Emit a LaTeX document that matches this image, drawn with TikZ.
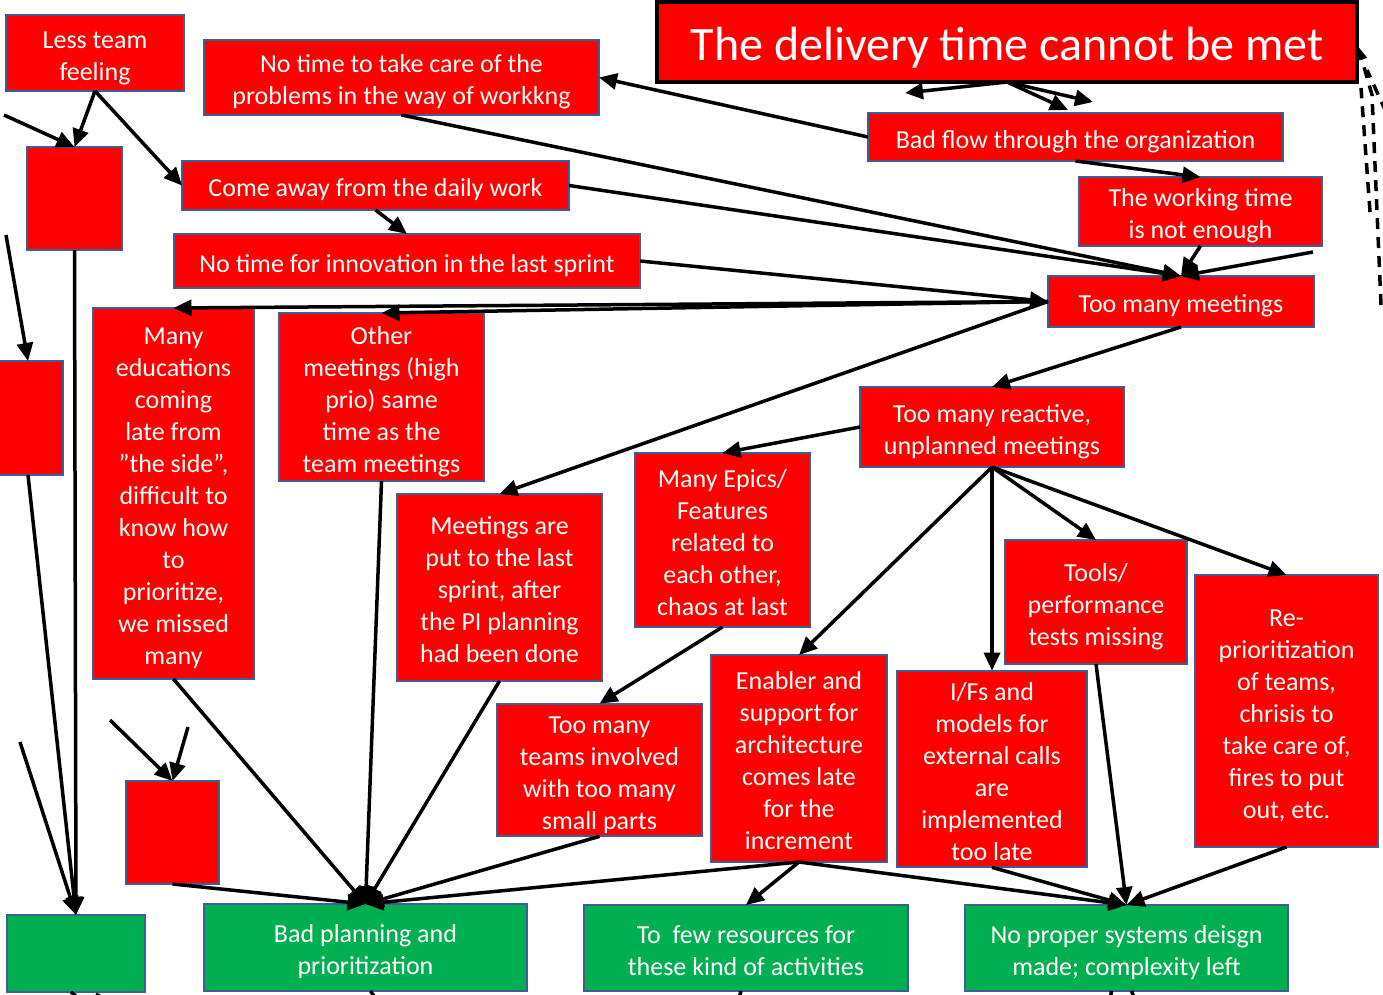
\documentclass[tikz,border=0pt]{standalone}
\usepackage{fontspec}
\setmainfont{Carlito}
\usetikzlibrary{arrows.meta}
\definecolor{boxred}{RGB}{255,0,0}
\definecolor{boxgreen}{RGB}{0,176,80}
\definecolor{boxedge}{RGB}{60,95,150}
\newcommand\ppstrutA{\rule[-0.269em]{0pt}{\dimexpr1.221em+5pt\relax}}
\newcommand\ppstrutB{\rule[-0.269em]{0pt}{1.221em}}
\tikzset{
  rbox/.style={draw=boxedge, line width=2pt, fill=boxred, text=white, align=flush center,
    inner sep=0pt, outer sep=0pt, font=\fontsize{26}{32}\selectfont,
    execute at begin node=\ppstrutA, execute at end node=\ppstrutB},
  gbox/.style={rbox, fill=boxgreen},
  tw/.style={text width=#1},
  conn/.style={line width=3.5pt, -{Triangle[length=18pt,width=16pt]}},
  plainline/.style={line width=3.5pt},
  dashline/.style={line width=3.5pt, dash pattern=on 11pt off 8pt},
}
\begin{document}
\begin{tikzpicture}[x=1pt,y=-1pt]
\useasboundingbox (0,0) rectangle (1383,995);
% nodes
\node[rbox, tw=170, minimum width=178, minimum height=76] (less) at (95,53) {Less team\\feeling};
\node[rbox, tw=385, minimum width=395, minimum height=75] (notake) at (401.5,77.5) {No time to take care of the\\problems in the way of workkng};
\node[rbox, tw=690, draw=black, line width=4.5pt, minimum width=700, minimum height=80, font=\fontsize{48}{56}\selectfont] (deliv) at (1007,42) {The delivery time cannot be met};
\node[rbox, tw=405, minimum width=415, minimum height=48] (badflow) at (1075.5,137) {Bad flow through the organization};
\node[rbox, tw=235, minimum width=243, minimum height=63] (worktime) at (1200.5,211.5) {The working time\\is not enough};
\node[rbox, tw=258, minimum width=266, minimum height=51] (toomany) at (1181,301.5) {Too many meetings};
\node[rbox, tw=380, minimum width=387, minimum height=49] (comeaway) at (375.5,185.5) {Come away from the daily work};
\node[rbox, tw=458, minimum width=466, minimum height=54] (innov) at (407,261) {No time for innovation in the last sprint};
\node[rbox, minimum width=95, minimum height=103] (e1) at (74.5,198.5) {};
\node[rbox, minimum width=70, minimum height=114] (e2) at (28,418) {};
\node[rbox, tw=155, minimum width=161, minimum height=371] (educ) at (173.5,493.5) {Many\\educations\\coming\\late from\\”the side”,\\difficult to\\know how\\to\\prioritize,\\we missed\\many};
\node[rbox, tw=199, minimum width=205, minimum height=168] (other) at (381.5,397) {Other\\meetings (high\\prio) same\\time as the\\team meetings};
\node[rbox, tw=199, minimum width=205, minimum height=187] (put) at (499.5,587.5) {Meetings are\\put to the last\\sprint, after\\the PI planning\\had been done};
\node[rbox, tw=169, minimum width=175, minimum height=174] (epics) at (722.5,540) {Many Epics/\\Features\\related to\\each other,\\chaos at last};
\node[rbox, tw=256, minimum width=264, minimum height=80] (reactive) at (992,427) {Too many reactive,\\unplanned meetings};
\node[rbox, tw=176, minimum width=182, minimum height=124] (tools) at (1096,602) {Tools/\\performance\\tests missing};
\node[rbox, tw=177, minimum width=183, minimum height=272] (reprio) at (1286.5,711) {Re-\\prioritization\\of teams,\\chrisis to\\take care of,\\fires to put\\out, etc.};
\node[rbox, tw=170, minimum width=176, minimum height=207] (enabler) at (799,758.5) {Enabler and\\support for\\architecture\\comes late\\for the\\increment};
\node[rbox, tw=184, minimum width=190, minimum height=192] (ifs) at (992,769) {I/Fs and\\models for\\external calls\\are\\implemented\\too late};
\node[rbox, tw=199, minimum width=205, minimum height=130] (teams) at (599.5,770) {Too many\\teams involved\\with too many\\small parts};
\node[rbox, minimum width=93, minimum height=103] (e3) at (172.5,832.5) {};
\node[gbox, minimum width=138, minimum height=77] (g1) at (76,953.5) {};
\node[gbox, tw=315, minimum width=323, minimum height=87] (badplan) at (365.5,947.5) {Bad planning and\\prioritization};
\node[gbox, tw=316, minimum width=324, minimum height=86] (few) at (746,948) {To\ \ few resources for\\these kind of activities};
\node[gbox, tw=315, minimum width=323, minimum height=86] (noproper) at (1126.5,948) {No proper systems deisgn\\made; complexity left};
% free ends
\coordinate (f1) at (4,115);
\coordinate (f2) at (1313,252);
\coordinate (f3) at (6,235);
\coordinate (f4) at (20,742);
\coordinate (f5) at (110,720);
\coordinate (f6) at (188,727);
\coordinate (a1) at (905,93);
\coordinate (a2) at (1068,110);
\coordinate (a3) at (1093,102);
\coordinate (d1) at (1381,305);
\coordinate (d1m) at (1372,95);
\coordinate (d1e) at (1358,46);
\coordinate (d2) at (1370,212);
\coordinate (d2e) at (1361,88);
\coordinate (d3) at (1386,112);
\coordinate (d3e) at (1367,70);
\coordinate (s1) at (95,1012);
\coordinate (s2) at (125,1012);
\coordinate (s3) at (385,1012);
\coordinate (s4) at (735,1012);
\coordinate (s5) at (1108,1012);
\coordinate (s6) at (1140,1012);
% connectors
\draw[conn] (less.south) -- (e1.north);
\draw[conn] (less.south) -- (comeaway.west);
\draw[conn] (f1) -- (e1.north);
\draw[conn] (comeaway.south) -- (innov.north);
\draw[conn] (badflow.west) -- (notake.east);
\draw[conn] (deliv.south) -- (a1);
\draw[conn] (deliv.south) -- (a2);
\draw[conn] (deliv.south) -- (a3);
\draw[conn] (badflow.south) -- (worktime.north);
\draw[conn] (notake.south) -- (toomany.north);
\draw[conn] (comeaway.east) -- (toomany.north);
\draw[conn] (worktime.south) -- (toomany.north);
\draw[conn] (f2) -- (toomany.north);
\draw[conn] (innov.east) -- (toomany.west);
\draw[conn] (toomany.west) -- (educ.north);
\draw[conn] (toomany.west) -- (other.north);
\draw[conn] (toomany.west) -- (put.north);
\draw[conn] (toomany.south) -- (reactive.north);
\draw[conn] (reactive.west) -- (epics.north);
\draw[conn] (reactive.south) -- (enabler.north);
\draw[conn] (reactive.south) -- (ifs.north);
\draw[conn] (reactive.south) -- (tools.north);
\draw[conn] (reactive.south) -- (reprio.north);
\draw[conn] (epics.south) -- (teams.north);
\draw[conn] (e1.south) -- (g1.north);
\draw[conn] (f3) -- (e2.north);
\draw[conn] (e2.south) -- (g1.north);
\draw[conn] (f4) -- (g1.north);
\draw[conn] (f5) -- (e3.north);
\draw[conn] (f6) -- (e3.north);
\draw[conn] (educ.south) -- (badplan.north);
\draw[conn] (other.south) -- (badplan.north);
\draw[conn] (put.south) -- (badplan.north);
\draw[conn] (teams.south) -- (badplan.north);
\draw[conn] (e3.south) -- (badplan.north);
\draw[conn] (enabler.south) -- (badplan.north);
\draw[conn] (enabler.south) -- (few.north);
\draw[conn] (enabler.south) -- (noproper.north);
\draw[conn] (ifs.south) -- (noproper.north);
\draw[conn] (tools.south) -- (noproper.north);
\draw[conn] (reprio.south) -- (noproper.north);
% dashed lines at right
\draw[dashline, -{Triangle[length=14pt,width=10pt]}] (d1) -- (d1m) -- (d1e);
\draw[dashline] (d2) -- (d2e);
\draw[dashline] (d3) -- (d3e);
% stubs leaving the page at the bottom
\draw[plainline] (g1.south) ++(-5,0) -- (s1);
\draw[plainline] (g1.south) ++(20,2) -- (s2);
\draw[plainline] (badplan.south) ++(5,0) -- (s3);
\draw[plainline] (few.south) ++(-5,0) -- (s4);
\draw[plainline] (noproper.south) ++(-15,0) -- (s5);
\draw[plainline] (noproper.south) ++(5,0) -- (s6);
\end{tikzpicture}
\end{document}
